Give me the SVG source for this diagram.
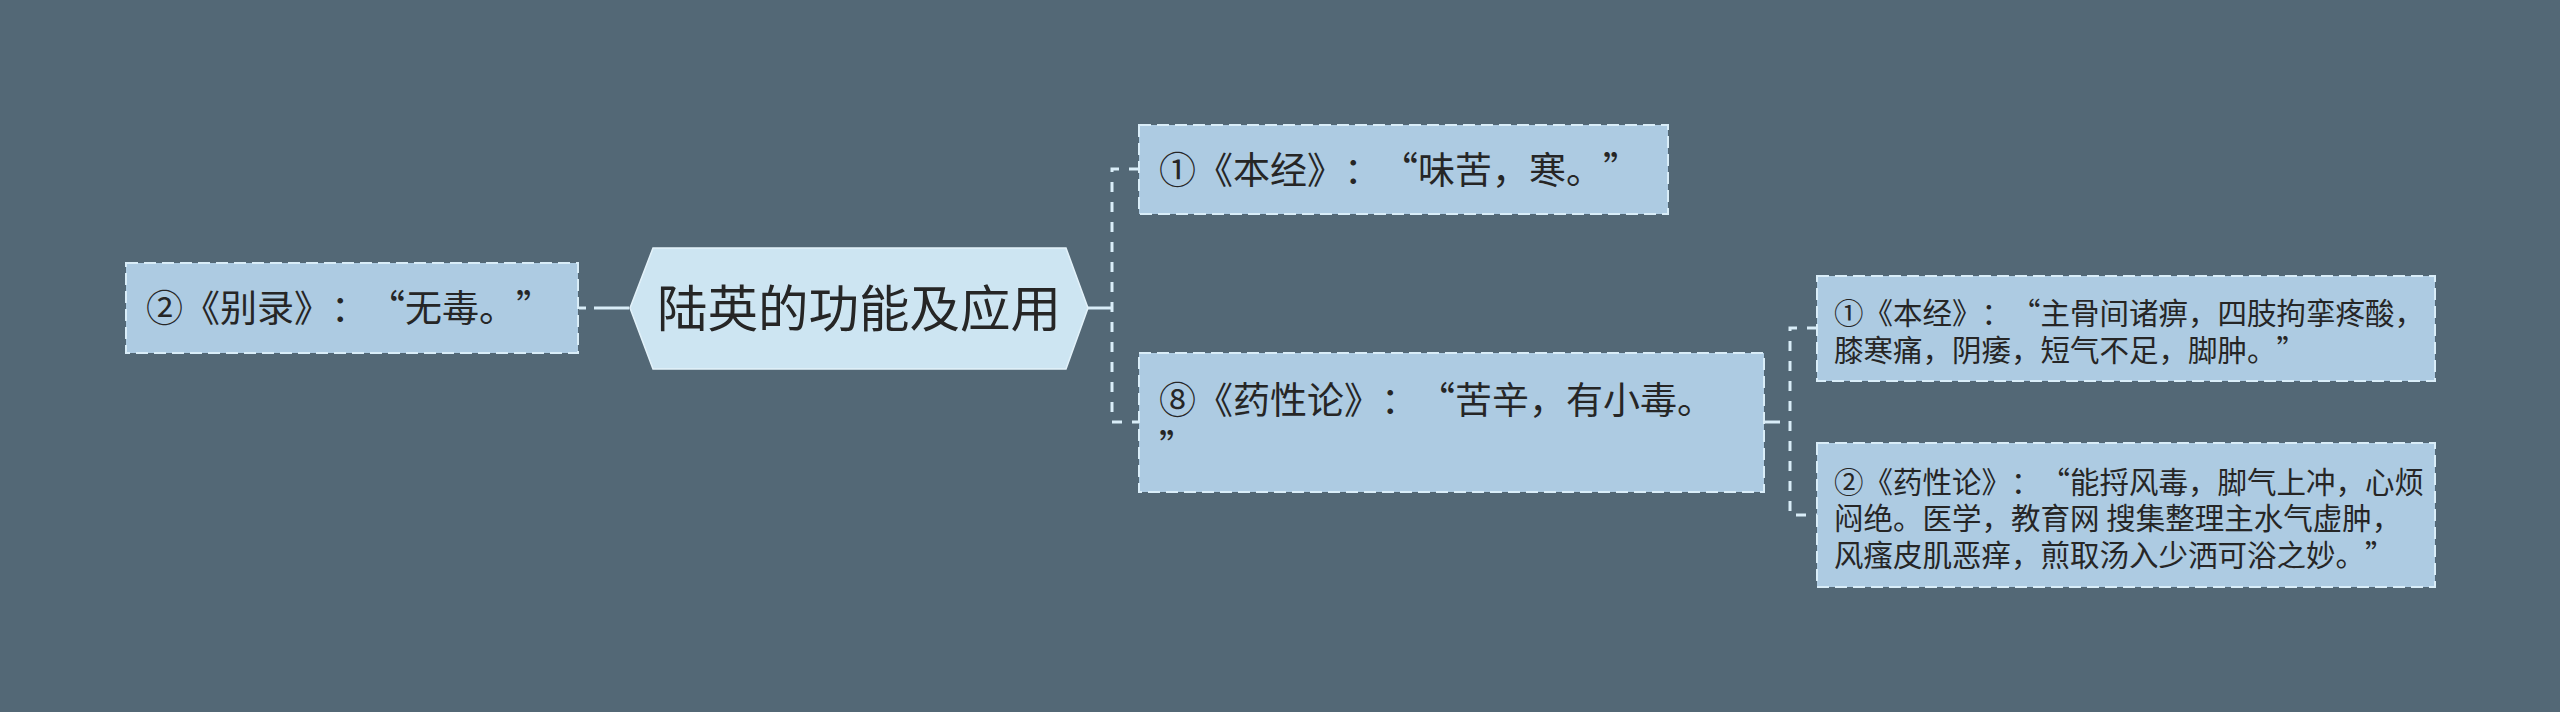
<svg xmlns="http://www.w3.org/2000/svg" width="2560" height="712" viewBox="0 0 2560 712">
<style>
.bg{fill:#536876}
.node{fill:#adcbe2;stroke:#d9edf8;stroke-width:2;stroke-dasharray:12 6}
.root{fill:#cde5f2;stroke:#e3f2fa;stroke-width:1.5}
.t{font-family:"Noto Sans CJK SC","Noto Sans",sans-serif;fill:#262626;font-feature-settings:"fwid" 1;text-spacing-trim:space-all}
.sp{font-feature-settings:normal}
.t1{font-size:37px}
.t2{font-size:29.5px}
.t0{font-size:50.5px}
.dash{fill:none;stroke:#d9edf8;stroke-width:3;stroke-dasharray:10 10}
.solid{fill:none;stroke:#d9edf8;stroke-width:3}
</style>
<rect class="bg" x="0" y="0" width="2560" height="712"/>
<g id="connectors">
<line class="solid" x1="629" y1="308" x2="594" y2="308"/>
<line class="solid" x1="579" y1="308" x2="586" y2="308"/>
<line class="solid" x1="1088" y1="308" x2="1112" y2="308"/>
<path class="dash" d="M1139,169 H1112 V422 H1139"/>
<line class="solid" x1="1764" y1="422" x2="1780" y2="422"/>
<path class="dash" d="M1817,328 H1790 V515 H1817"/>
</g>
<g id="root">
<polygon class="root" points="630,308 653,248 1066,248 1088,308 1066,369 653,369"/>
<text class="t t0" x="657" y="327">陆英的功能及应用</text>
</g>
<g id="node-bielu">
<rect class="node" x="126" y="263" width="452" height="90"/>
<text class="t t1" x="146" y="322">②《别录》：“无毒。”</text>
</g>
<g id="node-benjing">
<rect class="node" x="1139" y="125" width="529" height="89"/>
<text class="t t1" x="1159" y="184">①《本经》：“味苦，寒。”</text>
</g>
<g id="node-yaoxinglun">
<rect class="node" x="1139" y="353" width="625" height="139"/>
<text class="t t1" x="1159" y="414">⑧《药性论》：“苦辛，有小毒。</text>
<text class="t t1" x="1159" y="462">”</text>
</g>
<g id="node-benjing2">
<rect class="node" x="1817" y="276" width="618" height="105"/>
<text class="t t2" x="1834" y="324">①《本经》：“主骨间诸痹，四肢拘挛疼酸，</text>
<text class="t t2" x="1834" y="361">膝寒痛，阴痿，短气不足，脚肿。”</text>
</g>
<g id="node-yaoxinglun2">
<rect class="node" x="1817" y="443" width="618" height="144"/>
<text class="t t2" x="1834" y="493">②《药性论》：“能捋风毒，脚气上冲，心烦</text>
<text class="t t2" x="1834" y="529">闷绝。医学，教育网<tspan class="sp"> </tspan>搜集整理主水气虚肿，</text>
<text class="t t2" x="1834" y="566">风瘙皮肌恶痒，煎取汤入少洒可浴之妙。”</text>
</g>
</svg>
